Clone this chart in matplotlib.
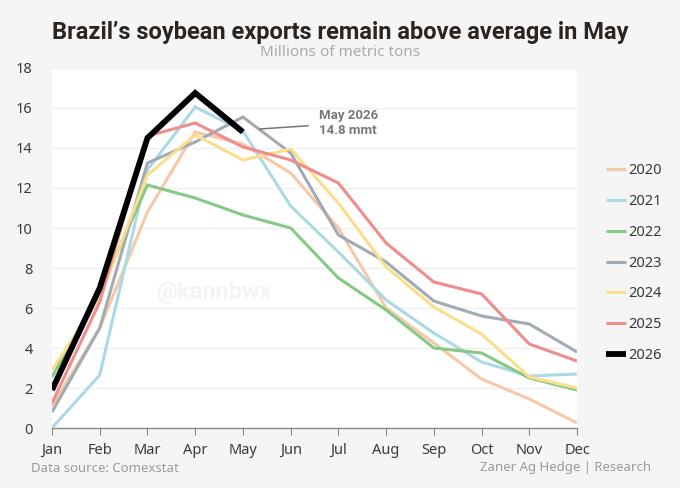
import matplotlib
matplotlib.use("Agg")
import matplotlib.pyplot as plt
from matplotlib import font_manager as fm

months = ["Jan", "Feb", "Mar", "Apr", "May", "Jun", "Jul", "Aug", "Sep", "Oct", "Nov", "Dec"]
years = ["2020", "2021", "2022", "2023", "2024", "2025", "2026"]

v2020 = [1.1, 5.0, 10.8, 14.8, 14.2, 12.75, 10.0, 6.0, 4.25, 2.45, 1.45, 0.25]
v2021 = [0.0, 2.65, 12.9, 16.05, 14.85, 11.1, 8.8, 6.4, 4.75, 3.3, 2.6, 2.7]
v2022 = [2.55, 6.8, 12.15, 11.5, 10.65, 10.0, 7.5, 5.9, 4.0, 3.75, 2.5, 1.9]
v2023 = [0.8, 5.0, 13.25, 14.3, 15.55, 13.75, 9.65, 8.3, 6.35, 5.6, 5.2, 3.8]
v2024 = [2.9, 6.5, 12.65, 14.65, 13.4, 13.95, 11.25, 8.05, 6.05, 4.7, 2.55, 2.0]
v2025 = [1.25, 6.3, 14.6, 15.25, 14.05, 13.4, 12.25, 9.25, 7.3, 6.7, 4.2, 3.35]
v2026 = [1.9, 7.0, 14.5, 16.75, 14.8]

series = [v2020, v2021, v2022, v2023, v2024, v2025, v2026]
colors = ["#f7c8a8", "#abd9e6", "#86c986", "#a2abb3", "#f9df8c", "#ef8d8d", "#000000"]
widths = [2.2, 2.2, 2.2, 2.2, 2.2, 2.2, 4.2]

names = {f.name for f in fm.fontManager.ttflist}
title_font = "Liberation Sans Narrow" if "Liberation Sans Narrow" in names else "Roboto"
body_font = "Noto Sans"
bold_font = "Roboto"

fig = plt.figure(figsize=(6.8, 4.88), dpi=100)
fig.patch.set_facecolor("#f5f5f5")
ax = fig.add_axes([52 / 680, 60 / 488, 525 / 680, 360 / 488])
ax.set_facecolor("white")

x = list(range(len(months)))
for yr, vals, c, w in zip(years, series, colors, widths):
    ax.plot(x[:len(vals)], vals, color=c, lw=w, label=yr, zorder=3 if yr != "2026" else 5,
            solid_joinstyle="miter", solid_capstyle="butt")

ax.set_xlim(0, 11)
ax.set_ylim(0, 18)
ax.set_yticks(range(0, 19, 2))
ax.set_xticks(x)
ax.set_xticklabels(months)
ax.grid(axis="y", color="#efefef", lw=0.9)
ax.set_axisbelow(True)
for s in ["top", "right", "left"]:
    ax.spines[s].set_visible(False)
ax.spines["bottom"].set_color("#888888")
ax.spines["bottom"].set_linewidth(1.0)
ax.tick_params(axis="y", length=0, pad=14, labelsize=10.5, labelcolor="#3a3a3a")
ax.tick_params(axis="x", length=5, color="#888888", pad=6, labelsize=10.5, labelcolor="#3a3a3a")
for lab in ax.get_xticklabels() + ax.get_yticklabels():
    lab.set_fontfamily(body_font)

# watermark
ax.text(3.4, 6.8, "@kannbwx", fontsize=17, fontweight="bold", color="#f4f4f4",
        ha="center", va="center", family=bold_font, zorder=1)

# annotation
ax.annotate("May 2026\n14.8 mmt", xy=(4.35, 14.95), xytext=(5.6, 15.25),
            fontsize=9.5, fontweight="bold", color="#777777", family=bold_font,
            ha="left", va="center", linespacing=1.15,
            arrowprops=dict(arrowstyle="-", color="#777777", lw=1.1, shrinkA=6, shrinkB=0))

leg = ax.legend(loc="center left", bbox_to_anchor=(1.03, 0.458), frameon=False,
                handlelength=1.4, handletextpad=0.15, labelspacing=1.08,
                prop={"family": body_font, "size": 10.5})
for t in leg.get_texts():
    t.set_color("#3a3a3a")
for h, w in zip(leg.get_lines(), widths):
    h.set_linewidth(w)

fig.text(0.5, 0.934, "Brazil\u2019s soybean exports remain above average in May",
         ha="center", va="center", fontsize=17, fontweight="bold", color="#2b2522",
         family=title_font)
fig.text(0.5, 1 - 53 / 488, "Millions of metric tons", ha="center", va="center", fontsize=11,
         color="#aaaaaa", family=body_font)
fig.text(31 / 680, 1 - 468 / 488, "Data source: Comexstat", ha="left", va="center",
         fontsize=9.5, color="#9a9a9a", family=body_font)
fig.text(651 / 680, 1 - 468 / 488, "Zaner Ag Hedge | Research", ha="right", va="center",
         fontsize=9.5, color="#9a9a9a", family=body_font)

fig.savefig("out.png", dpi=100, facecolor=fig.get_facecolor())
